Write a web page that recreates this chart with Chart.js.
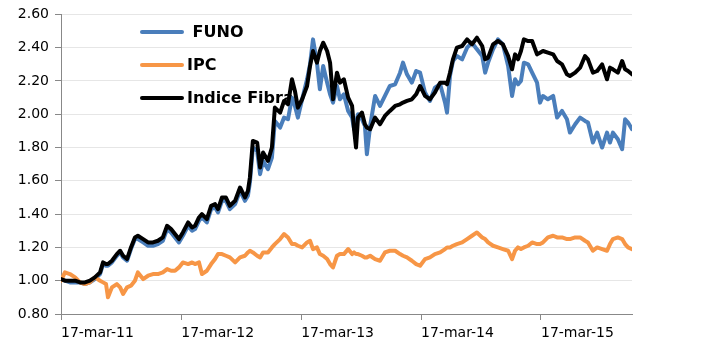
<!DOCTYPE html>
<html>
<head>
<meta charset="utf-8">
<script src="https://cdn.jsdelivr.net/npm/chart.js@4.4.1/dist/chart.umd.min.js"></script>
<style>
  html, body { margin: 0; padding: 0; background: #fff; }
  #wrap { width: 724px; height: 351px; }
</style>
</head>
<body>
<div id="wrap"><canvas id="chart"></canvas></div>
<script>
// days since 17-mar-11
const days = [0, 12, 27, 43, 58, 73, 88, 103, 119, 128, 137, 143, 155, 170, 180, 189, 201, 213, 225, 234,
  250, 265, 280, 295, 310, 323, 335, 347, 359, 371, 387, 399, 408, 420, 429, 444, 457, 469, 478, 490,
  502, 514, 530, 545, 560, 569, 575, 584, 597, 606, 615, 630, 642, 651, 667, 679, 691, 703, 712, 721,
  734, 749, 758, 767, 779, 788, 798, 810, 819, 828, 840, 849, 861, 874, 886, 892, 898, 904, 916, 925,
  931, 941, 956, 971, 986, 1001, 1017, 1032, 1041, 1053, 1068, 1081, 1093, 1108, 1123, 1138, 1154, 1169, 1175, 1184,
  1193, 1205, 1221, 1236, 1251, 1266, 1282, 1291, 1300, 1315, 1330, 1345, 1361, 1373, 1382, 1391, 1400, 1409, 1422, 1434,
  1449, 1458, 1467, 1482, 1498, 1510, 1525, 1540, 1549, 1565, 1580, 1595, 1604, 1619, 1632, 1647, 1662, 1671, 1680, 1695,
  1708, 1717, 1726, 1738];

const fibra = [1.01, 1.00, 1.00, 1.00, 0.99, 0.99, 1.00, 1.02, 1.05, 1.11, 1.10, 1.10, 1.12, 1.16, 1.18, 1.15, 1.13, 1.20, 1.26, 1.27,
  1.25, 1.23, 1.23, 1.24, 1.26, 1.33, 1.31, 1.28, 1.25, 1.29, 1.35, 1.32, 1.33, 1.38, 1.40, 1.37, 1.45, 1.46, 1.43, 1.50,
  1.50, 1.45, 1.48, 1.56, 1.50, 1.54, 1.62, 1.84, 1.83, 1.68, 1.77, 1.72, 1.80, 2.04, 2.01, 2.08, 2.06, 2.21, 2.14, 2.04,
  2.09, 2.17, 2.29, 2.38, 2.31, 2.38, 2.43, 2.38, 2.31, 2.09, 2.25, 2.19, 2.21, 2.10, 2.05, 1.91, 1.80, 1.98, 2.01, 1.94,
  1.92, 1.91, 1.98, 1.94, 1.99, 2.02, 2.05, 2.06, 2.07, 2.08, 2.09, 2.12, 2.17, 2.11, 2.09, 2.13, 2.19, 2.19, 2.18, 2.25,
  2.33, 2.40, 2.41, 2.45, 2.42, 2.46, 2.41, 2.33, 2.34, 2.42, 2.44, 2.42, 2.35, 2.27, 2.36, 2.33, 2.38, 2.45, 2.44, 2.44,
  2.36, 2.37, 2.38, 2.37, 2.36, 2.32, 2.30, 2.24, 2.23, 2.25, 2.28, 2.35, 2.33, 2.25, 2.26, 2.30, 2.21, 2.28, 2.27, 2.25,
  2.32, 2.27, 2.26, 2.24];

const funo = [1.01, 1.00, 0.99, 0.99, 0.99, 0.98, 0.99, 1.01, 1.04, 1.10, 1.09, 1.09, 1.11, 1.15, 1.17, 1.14, 1.12, 1.19, 1.25, 1.25,
  1.23, 1.21, 1.21, 1.22, 1.24, 1.31, 1.29, 1.26, 1.23, 1.27, 1.33, 1.30, 1.31, 1.36, 1.38, 1.35, 1.43, 1.44, 1.41, 1.48,
  1.48, 1.43, 1.46, 1.54, 1.48, 1.51, 1.59, 1.80, 1.78, 1.64, 1.72, 1.67, 1.74, 1.96, 1.92, 1.98, 1.97, 2.10, 2.05, 1.98,
  2.09, 2.21, 2.30, 2.45, 2.31, 2.15, 2.29, 2.19, 2.12, 2.07, 2.17, 2.09, 2.12, 2.02, 1.98, 1.91, 1.95, 2.00, 1.97, 1.93,
  1.76, 1.93, 2.11, 2.05, 2.11, 2.17, 2.18, 2.25, 2.31, 2.24, 2.19, 2.26, 2.25, 2.13, 2.08, 2.16, 2.18, 2.07, 2.01, 2.23,
  2.32, 2.35, 2.33, 2.40, 2.43, 2.39, 2.35, 2.25, 2.31, 2.39, 2.45, 2.42, 2.29, 2.11, 2.21, 2.18, 2.20, 2.31, 2.30, 2.25,
  2.19, 2.07, 2.11, 2.09, 2.11, 1.98, 2.02, 1.97, 1.89, 1.94, 1.98, 1.96, 1.95, 1.83, 1.89, 1.80, 1.89, 1.83, 1.89, 1.85,
  1.79, 1.97, 1.95, 1.91];

const ipc = [1.00, 1.05, 1.04, 1.02, 0.99, 0.98, 0.99, 1.02, 1.00, 0.99, 0.98, 0.90, 0.96, 0.98, 0.96, 0.92, 0.96, 0.97, 1.00, 1.05,
  1.01, 1.03, 1.04, 1.04, 1.05, 1.07, 1.06, 1.06, 1.08, 1.11, 1.10, 1.11, 1.10, 1.11, 1.04, 1.06, 1.10, 1.13, 1.16, 1.16,
  1.15, 1.14, 1.11, 1.14, 1.15, 1.17, 1.18, 1.17, 1.15, 1.14, 1.17, 1.17, 1.20, 1.22, 1.25, 1.28, 1.26, 1.22, 1.22, 1.21,
  1.20, 1.23, 1.24, 1.19, 1.20, 1.16, 1.15, 1.13, 1.10, 1.08, 1.15, 1.16, 1.16, 1.19, 1.16, 1.17, 1.16, 1.16, 1.15, 1.14,
  1.14, 1.15, 1.13, 1.12, 1.17, 1.18, 1.18, 1.16, 1.15, 1.14, 1.12, 1.10, 1.09, 1.13, 1.14, 1.16, 1.17, 1.19, 1.20, 1.20,
  1.21, 1.22, 1.23, 1.25, 1.27, 1.29, 1.26, 1.25, 1.23, 1.21, 1.20, 1.19, 1.18, 1.13, 1.18, 1.20, 1.19, 1.20, 1.21, 1.23,
  1.22, 1.22, 1.23, 1.26, 1.27, 1.26, 1.26, 1.25, 1.25, 1.26, 1.26, 1.24, 1.23, 1.18, 1.20, 1.19, 1.18, 1.22, 1.25, 1.26,
  1.25, 1.22, 1.20, 1.19];

const tickDays = [0, 366, 731, 1096, 1461];
const tickLabels = ['17-mar-11', '17-mar-12', '17-mar-13', '17-mar-14', '17-mar-15'];

const seriesNames = [' FUNO', 'IPC', 'Indice Fibra'];
const seriesColors = ['#4a7ebb', '#f79646', '#000000'];

function toPoints(vals) {
  return vals.map((v, i) => ({ x: days[i], y: v }));
}

// legend sits inside the plot, under the lines
const insideLegend = {
  id: 'insideLegend',
  beforeDatasetsDraw(chart) {
    const ctx = chart.ctx;
    ctx.save();
    ctx.font = 'bold 16px "DejaVu Sans", Verdana, sans-serif';
    ctx.textBaseline = 'middle';
    ctx.lineWidth = 4;
    ctx.lineCap = 'round';
    seriesNames.forEach((name, i) => {
      const yy = 32 + i * 33;
      ctx.strokeStyle = seriesColors[i];
      ctx.beginPath();
      ctx.moveTo(142, yy);
      ctx.lineTo(182, yy);
      ctx.stroke();
      ctx.fillStyle = '#000';
      ctx.fillText(name, 187, yy + 1);
    });
    ctx.restore();
  }
};

document.addEventListener('DOMContentLoaded', function () {
  const config = {
    type: 'line',
    data: {
      datasets: [
        {
          label: seriesNames[2],
          data: toPoints(fibra),
          borderColor: seriesColors[2],
          borderWidth: 4,
          pointRadius: 0,
          order: 0
        },
        {
          label: seriesNames[1],
          data: toPoints(ipc),
          borderColor: seriesColors[1],
          borderWidth: 4,
          pointRadius: 0,
          order: 1
        },
        {
          label: seriesNames[0],
          data: toPoints(funo),
          borderColor: seriesColors[0],
          borderWidth: 4,
          pointRadius: 0,
          order: 2
        }
      ]
    },
    options: {
      responsive: true,
      maintainAspectRatio: false,
      animation: false,
      layout: { padding: { top: 14, right: 92, left: 0, bottom: 0 } },
      elements: { line: { tension: 0, borderJoinStyle: 'round', borderCapStyle: 'round' } },
      scales: {
        x: {
          type: 'linear',
          min: 0,
          max: days[days.length - 1],
          afterBuildTicks: scale => {
            scale.ticks = tickDays.map(v => ({ value: v }));
          },
          afterFit: scale => { scale.height = 37; },
          grid: { drawOnChartArea: false, tickColor: '#888', tickLength: 6 },
          border: { color: '#888', width: 1 },
          ticks: {
            align: 'start',
            maxRotation: 0,
            padding: 5,
            color: '#000',
            font: { family: '"DejaVu Sans", Verdana, sans-serif', size: 14 },
            callback: value => {
              const k = tickDays.indexOf(value);
              return k >= 0 ? tickLabels[k] : '';
            }
          }
        },
        y: {
          min: 0.8,
          max: 2.6,
          afterFit: scale => { scale.width = 61; },
          grid: { color: '#e6e6e6', tickColor: '#888', tickLength: 6 },
          border: { color: '#888', width: 1 },
          ticks: {
            stepSize: 0.2,
            padding: 6,
            color: '#000',
            font: { family: '"DejaVu Sans", Verdana, sans-serif', size: 14 },
            callback: v => Number(v).toFixed(2)
          }
        }
      },
      plugins: {
        legend: { display: false },
        title: { display: false },
        tooltip: { enabled: false }
      }
    },
    plugins: [insideLegend]
  };

  chart = new Chart(document.getElementById('chart').getContext('2d'), config);
});
let chart = null;
</script>
</body>
</html>
